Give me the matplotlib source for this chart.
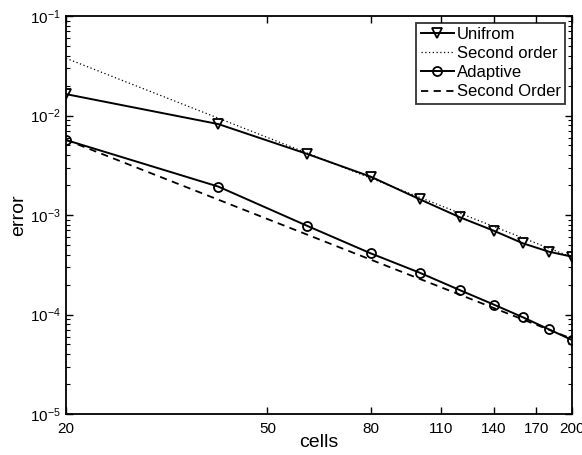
import matplotlib
matplotlib.use("Agg")
import matplotlib.pyplot as plt
from matplotlib.ticker import FixedLocator, FixedFormatter, LogLocator, NullLocator

plt.rcParams['font.family'] = ['Liberation Sans', 'DejaVu Sans']
plt.rcParams['mathtext.fontset'] = 'custom'
plt.rcParams['mathtext.rm'] = 'Liberation Sans'
plt.rcParams['mathtext.default'] = 'regular'

# data
cells = [20, 40, 60, 80, 100, 120, 140, 160, 180, 200]
err_uniform = [0.0164, 0.0082, 0.0041, 0.00243, 0.00144, 0.00095, 0.000696, 0.000519, 0.000428, 0.000381]
err_adaptive = [0.00567, 0.00193, 0.000776, 0.000412, 0.000263, 0.000176, 0.000126, 9.37e-5, 7.1e-5, 5.54e-5]

# second order reference lines (end points)
ref_cells = [20, 200]
ref_uniform = [0.0376, 0.000376]
ref_adaptive = [0.0057, 0.000057]

xticks = [20, 50, 80, 110, 140, 170, 200]
xticklabels = ['20', '50', '80', '110', '140', '170', '200']

fig = plt.figure(figsize=(5.82, 4.55), dpi=100)
ax = fig.add_axes([66 / 582, 1 - 414 / 455, (572 - 66) / 582, (414 - 16) / 455])

ax.plot(cells, err_uniform, color='black', lw=1.4, marker='v', markersize=7,
        markerfacecolor='none', markeredgewidth=1.3, label='Unifrom')
ax.plot(ref_cells, ref_uniform, color='black', lw=0.9, linestyle=(0, (1, 2)),
        label='Second order')
ax.plot(cells, err_adaptive, color='black', lw=1.4, marker='o', markersize=6.5,
        markerfacecolor='none', markeredgewidth=1.3, label='Adaptive')
ax.plot(ref_cells, ref_adaptive, color='black', lw=1.3, linestyle=(0, (4, 3)),
        label='Second Order')

ax.set_xscale('log')
ax.set_yscale('log')
ax.set_xlim(20, 200)
ax.set_ylim(1e-5, 1e-1)

ax.xaxis.set_major_locator(FixedLocator(xticks))
ax.xaxis.set_major_formatter(FixedFormatter(xticklabels))
ax.xaxis.set_minor_locator(NullLocator())
ax.yaxis.set_major_locator(LogLocator(base=10, numticks=10))
ax.yaxis.set_minor_locator(LogLocator(base=10, subs=range(2, 10), numticks=10))

ax.tick_params(which='both', direction='in', top=True, right=True, labelsize=11)
ax.tick_params(which='major', length=5, width=1)
ax.tick_params(which='minor', length=3, width=0.8)
ax.tick_params(axis='x', pad=6)
for s in ax.spines.values():
    s.set_linewidth(1.3)

ax.set_xlabel('cells', fontsize=14, labelpad=-2)
ax.set_ylabel('error', fontsize=14, labelpad=2)

leg = ax.legend(loc='upper right', fontsize=12, frameon=True, fancybox=False,
                handlelength=2.0, handletextpad=0.2, borderpad=0.25,
                labelspacing=0.25, borderaxespad=0.4)
leg.get_frame().set_edgecolor('black')
leg.get_frame().set_linewidth(1.3)

fig.savefig('out.png', dpi=100)
